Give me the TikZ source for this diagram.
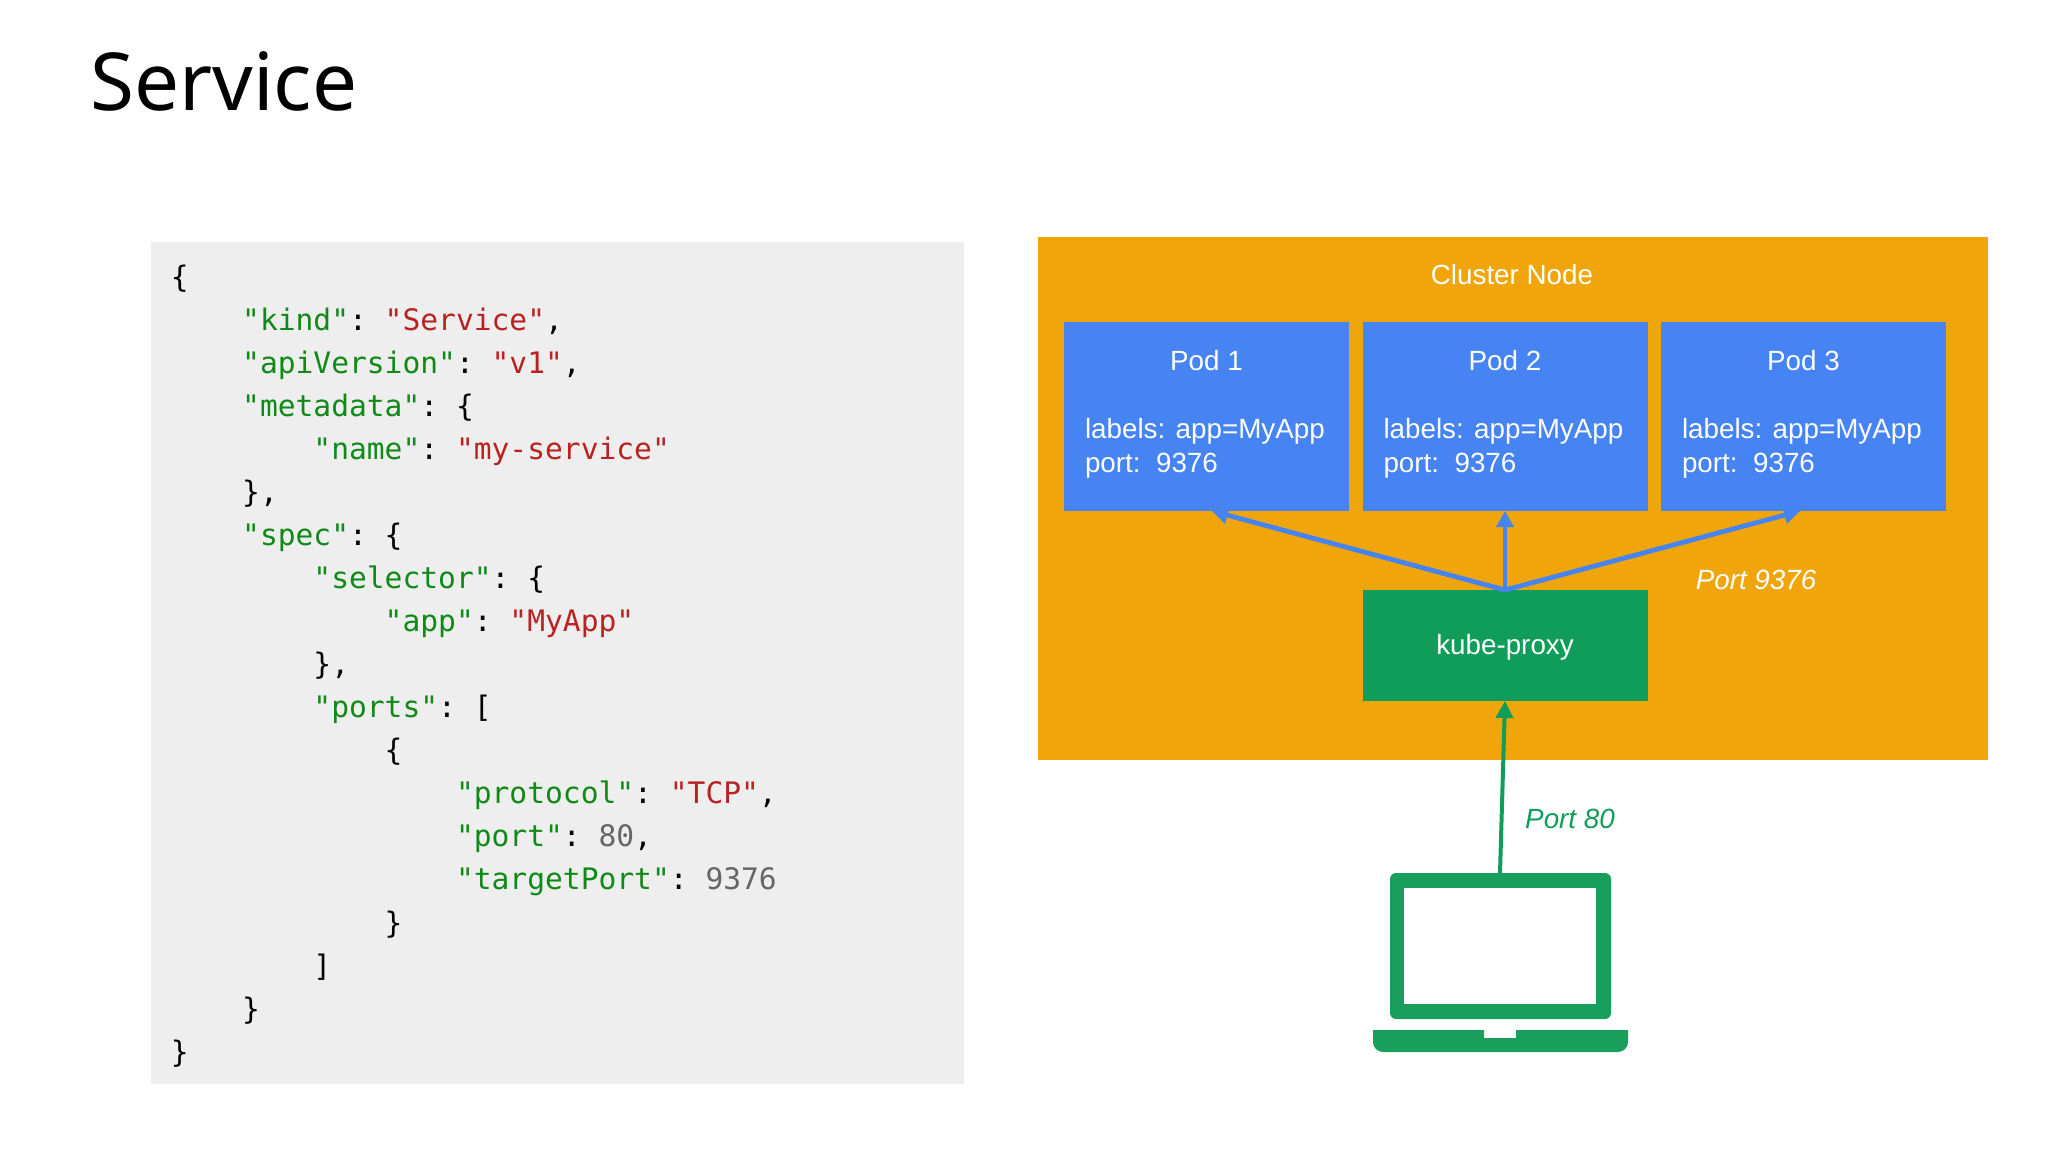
\documentclass[tikz,border=0pt]{standalone}
\usepackage{fontspec}
\setmainfont{Liberation Sans}
\setmonofont{DejaVu Sans Mono}
\newfontfamily\titlefont{Noto Sans}
\usetikzlibrary{arrows.meta,positioning}
\definecolor{clusterorange}{HTML}{F0A50A}
\definecolor{podblue}{HTML}{4683F3}
\definecolor{proxygreen}{HTML}{109D59}
\definecolor{laptopgreen}{HTML}{1A9E5C}
\definecolor{codegray}{HTML}{EEEEEE}
\definecolor{keygreen}{HTML}{0F8A17}
\definecolor{strred}{HTML}{BA2121}
\definecolor{numgray}{HTML}{666666}
\newcommand{\jkey}[1]{\textcolor{keygreen}{"#1"}}
\newcommand{\jstr}[1]{\textcolor{strred}{"#1"}}
\newcommand{\jnum}[1]{\textcolor{numgray}{#1}}
\newcommand{\jind}[1]{\hspace*{#1\dimexpr 8.91pt\relax}}
\tikzset{
  box/.style={inner sep=0pt,outer sep=0pt,font=\fontsize{13.9}{17}\selectfont,text=white},
  podbox/.style={box,fill=podblue,minimum width=142.5pt,minimum height=94.5pt},
  podtxt/.style={box,align=left,anchor=north west},
  flow/.style={podblue,line width=2.4pt,-{Triangle[length=8pt,width=8.5pt]}},
  feed/.style={proxygreen,line width=2pt,-{Triangle[length=8.5pt,width=8.5pt]}}
}
\begin{document}
\begin{tikzpicture}[x=0.5pt,y=-0.5pt]
\useasboundingbox (0,0) rectangle (2048,1152);
\node[anchor=base west,inner sep=0pt,font=\titlefont\fontsize{40}{40}\selectfont] (title) at (90,110.5) {Service};
% json on the left
\fill[codegray] (151,242) rectangle (964,1084);
\node[anchor=north west,inner sep=0pt,align=left,font=\ttfamily\fontsize{14.8}{21.52}\selectfont] (code) at (170.5,264.5) {%
\{\\
\jind{4}\jkey{kind}: \jstr{Service},\\
\jind{4}\jkey{apiVersion}: \jstr{v1},\\
\jind{4}\jkey{metadata}: \{\\
\jind{8}\jkey{name}: \jstr{my-service}\\
\jind{4}\},\\
\jind{4}\jkey{spec}: \{\\
\jind{8}\jkey{selector}: \{\\
\jind{12}\jkey{app}: \jstr{MyApp}\\
\jind{8}\},\\
\jind{8}\jkey{ports}: [\\
\jind{12}\{\\
\jind{16}\jkey{protocol}: \jstr{TCP},\\
\jind{16}\jkey{port}: \jnum{80},\\
\jind{16}\jkey{targetPort}: \jnum{9376}\\
\jind{12}\}\\
\jind{8}]\\
\jind{4}\}\\
\}};
% cluster
\fill[clusterorange] (1038,237) rectangle (1988,760);
\node[box] (cluster) at (1512,275) {Cluster Node};
\foreach \n/\x in {1/1206.5,2/1505,3/1803.5}{
  \node[podbox] (pod\n) at (\x,416.5) {};
  \node[box] (podname\n) at (\x,360.5) {Pod \n};
  \node[podtxt] (podinfo\n) at (\x-121.5,418) {labels: app=MyApp\\port:\ \ 9376};
}
\node[box,fill=proxygreen,minimum width=142.5pt,minimum height=55.5pt] (proxy) at (1505,645.5) {};
\node[box] (proxyname) at (1505,647.5) {kube-proxy};
\coordinate (tip1) at (1212,511);
\coordinate (tip3) at (1800,511);
\draw[flow] (proxy.north) -- (tip1);
\draw[flow] (proxy.north) -- (pod2.south);
\draw[flow] (proxy.north) -- (tip3);
\node[box,font=\fontsize{13.9}{17}\itshape] (port9376) at (1756,580) {Port 9376};
% laptop
\fill[laptopgreen,rounded corners=3pt] (1390,873) rectangle (1611,1019);
\fill[white] (1404,888) rectangle (1596,1004);
\fill[laptopgreen] (1373,1030) -- (1373,1042) arc[start angle=180,end angle=90,radius=10] -- (1618,1052) arc[start angle=90,end angle=0,radius=10] -- (1628,1030) -- (1516,1030) -- (1516,1038) -- (1484,1038) -- (1484,1030) -- cycle;
\coordinate (lap) at (1500,873);
\draw[feed] (lap) -- (proxy.south);
\node[box,text=proxygreen,font=\fontsize{13.9}{17}\itshape] (port80) at (1570,819) {Port 80};
\end{tikzpicture}
\end{document}
